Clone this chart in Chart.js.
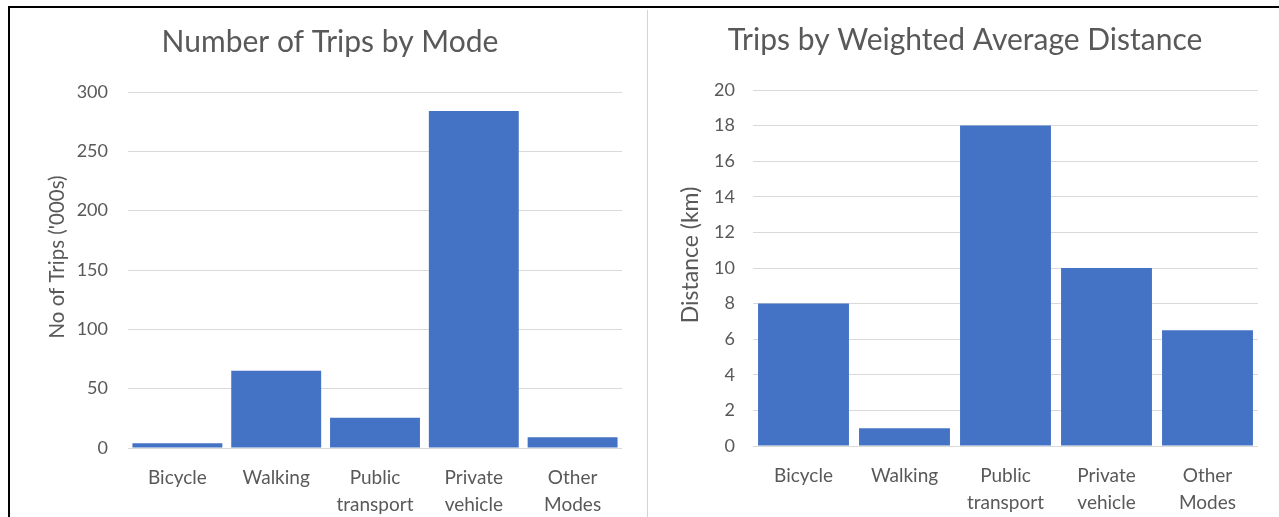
<!DOCTYPE html>
<html>
<head>
<meta charset="utf-8">
<script src="https://cdn.jsdelivr.net/npm/chart.js@4.4.0/dist/chart.umd.min.js"></script>
<style>
  html, body { margin: 0; padding: 0; background: #fff; width: 1279px; height: 517px; overflow: hidden; }
  body { position: relative; }
  #frameTop { position: absolute; left: 8px; top: 6px; width: 1271px; height: 2px; background: #000; }
  #frameLeft { position: absolute; left: 8px; top: 6px; width: 2px; height: 511px; background: #000; }
  #divider { position: absolute; left: 647px; top: 10px; width: 1px; height: 507px; background: #d4d4d4; }
  #tripsChart { position: absolute; left: 10px; top: 10px; }
  #distChart { position: absolute; left: 650px; top: 10px; }
</style>
</head>
<body>
<div id="frameTop"></div>
<div id="frameLeft"></div>
<div id="divider"></div>
<canvas id="tripsChart" width="630" height="507"></canvas>
<canvas id="distChart" width="629" height="507"></canvas>
<script>
// Travel modes shown on both charts
const modes = ['Bicycle', 'Walking', ['Public', 'transport'], ['Private', 'vehicle'], ['Other', 'Modes']];

// Number of trips per mode, in thousands
const tripCounts = [4, 65, 25.5, 284, 9];

// Weighted average trip distance per mode, km
const avgDistanceKm = [8, 1, 18, 10, 6.5];

// Value-axis ranges
const tripAxis = { min: 0, max: 300, step: 50 };
const distAxis = { min: 0, max: 20, step: 2 };

const BAR = '#4472C4';
const TEXT = '#595959';
const GRID = '#d9d9d9';
const FONT = 'Lato';

// Rotated value-axis caption, placed freely left of the plot
const axisCaption = {
  id: 'axisCaption',
  afterDraw(chart, args, opts) {
    const ctx = chart.ctx;
    ctx.save();
    ctx.translate(opts.x, opts.y);
    ctx.rotate(-Math.PI / 2);
    ctx.font = `${opts.size}px ${FONT}`;
    ctx.fillStyle = TEXT;
    ctx.textAlign = 'center';
    ctx.textBaseline = 'middle';
    ctx.fillText(opts.text, 0, 0);
    ctx.restore();
  }
};

function buildChart(id, cfg) {
  return new Chart(document.getElementById(id), {
    type: 'bar',
    data: {
      labels: modes,
      datasets: [{
        data: cfg.values,
        backgroundColor: BAR,
        borderWidth: 0,
        barPercentage: 1,
        categoryPercentage: cfg.catPct
      }]
    },
    plugins: [axisCaption],
    options: {
      responsive: false,
      animation: false,
      devicePixelRatio: 1,
      layout: { padding: { left: cfg.padLeft, right: cfg.padRight, top: 0, bottom: 0 } },
      plugins: {
        legend: { display: false },
        tooltip: { enabled: false },
        title: {
          display: true,
          text: cfg.title,
          color: TEXT,
          font: { family: FONT, size: 30, weight: 'normal', lineHeight: 1.2 },
          padding: { top: cfg.titleTop, bottom: cfg.titleBottom }
        },
        axisCaption: cfg.yTitle
      },
      scales: {
        x: {
          grid: { display: false, drawTicks: false },
          border: { display: false },
          ticks: {
            color: TEXT,
            font: { family: FONT, size: 19, lineHeight: 1.42 },
            padding: cfg.xPad,
            maxRotation: 0,
            autoSkip: false
          },
          afterFit: s => { s.height = cfg.xHeight; }
        },
        y: {
          min: cfg.axis.min,
          max: cfg.axis.max,
          grid: { color: GRID, lineWidth: 1, drawTicks: false },
          border: { display: false },
          ticks: {
            stepSize: cfg.axis.step,
            color: TEXT,
            font: { family: FONT, size: 18 },
            padding: cfg.yPad
          },
          afterFit: s => { s.width = cfg.yWidth; }
        }
      }
    }
  });
}

buildChart('tripsChart', {
  title: 'Number of Trips by Mode',
  yTitle: { text: "No of Trips ('000s)", x: 47, y: 247, size: 20.5 },
  values: tripCounts,
  axis: tripAxis,
  catPct: 0.91,
  padLeft: 28,
  padRight: 18,
  titleTop: 14.8,
  titleBottom: 31.2,
  xPad: 16.5,
  xHeight: 69,
  yPad: 20,
  yWidth: 90
});

buildChart('distChart', {
  title: 'Trips by Weighted Average Distance',
  yTitle: { text: 'Distance (km)', x: 41, y: 245, size: 23 },
  values: avgDistanceKm,
  axis: distAxis,
  catPct: 0.9,
  padLeft: 22,
  padRight: 21,
  titleTop: 12.8,
  titleBottom: 31.2,
  xPad: 16.5,
  xHeight: 71,
  yPad: 18,
  yWidth: 81
});
</script>
</body>
</html>
